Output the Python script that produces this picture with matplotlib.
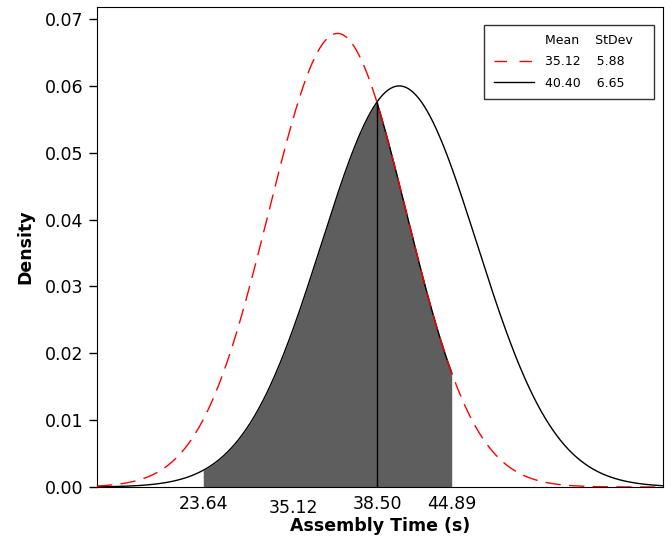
import numpy as np
import matplotlib
matplotlib.use('Agg')
import matplotlib.pyplot as plt
from matplotlib.lines import Line2D
from matplotlib.transforms import ScaledTranslation

# distributions (mean, stdev)
means = [35.12, 40.40]
stdevs = [5.88, 6.65]
colors = ['red', 'black']
# marked x positions
lower, cross, upper = 23.64, 38.50, 44.89
tick_vals = [23.64, 35.12, 38.50, 44.89]
tick_labels = ['23.64', '35.12', '38.50', '44.89']
xmin, xmax = 14.55, 62.96


def pdf(x, m, s):
    return np.exp(-0.5 * ((x - m) / s) ** 2) / (s * np.sqrt(2 * np.pi))


fig = plt.figure(figsize=(6.72, 5.37), dpi=100)
ax = fig.add_axes([0.1443, 0.0931, 0.8423, 0.8939])

x = np.linspace(xmin, xmax, 1000)
y_red = pdf(x, means[0], stdevs[0])
y_blk = pdf(x, means[1], stdevs[1])

# shaded area under the lower of the two curves
xs = np.linspace(lower, upper, 600)
ys = np.minimum(pdf(xs, means[0], stdevs[0]), pdf(xs, means[1], stdevs[1]))
ax.fill_between(xs, 0, ys, color='#5e5e5e', lw=0, zorder=1)
xr = np.linspace(cross, upper, 200)
ax.plot(xr, pdf(xr, means[0], stdevs[0]), color='black', lw=1.0, zorder=2)

ax.plot(x, y_blk, color='black', lw=1.0, zorder=3)
ax.plot(x, y_red, color='red', lw=1.0, dashes=(11, 6), zorder=4)
ax.vlines(cross, 0, pdf(cross, means[1], stdevs[1]), color='black', lw=1.0, zorder=3)

ax.set_xlim(xmin, xmax)
ax.set_ylim(0, 0.0718)
ax.set_yticks(np.arange(0, 0.071, 0.01))
ax.set_yticklabels(['%.2f' % v for v in np.arange(0, 0.071, 0.01)])
ax.tick_params(axis='y', length=6, width=1, labelsize=12.5, pad=4)
ax.set_xticks(tick_vals)
ax.set_xticklabels(tick_labels)
ax.tick_params(axis='x', length=0, labelsize=12.5, pad=6)
lbl = ax.get_xticklabels()[1]
lbl.set_transform(lbl.get_transform() + ScaledTranslation(-0.436, -0.04, fig.dpi_scale_trans))

ax.set_xlabel('Assembly Time (s)', fontsize=12.5, fontweight='bold', labelpad=0)
ax.set_ylabel('Density', fontsize=12.5, fontweight='bold', labelpad=7)

handles = [Line2D([], [], color='none'),
           Line2D([], [], color=colors[0], lw=1.0, dashes=(9, 9)),
           Line2D([], [], color=colors[1], lw=1.0)]
labels = ['Mean    StDev   ',
          '%.2f    %.2f  ' % (means[0], stdevs[0]),
          '%.2f    %.2f  ' % (means[1], stdevs[1])]
leg = ax.legend(handles, labels, loc='upper right', bbox_to_anchor=(0.984, 0.9625),
                fontsize=9, frameon=True, fancybox=False, edgecolor='black',
                handlelength=3.2, handletextpad=0.9, borderpad=0.75,
                borderaxespad=0, labelspacing=0.65)
leg.get_frame().set_linewidth(1.0)

fig.savefig('out.png', dpi=100)
